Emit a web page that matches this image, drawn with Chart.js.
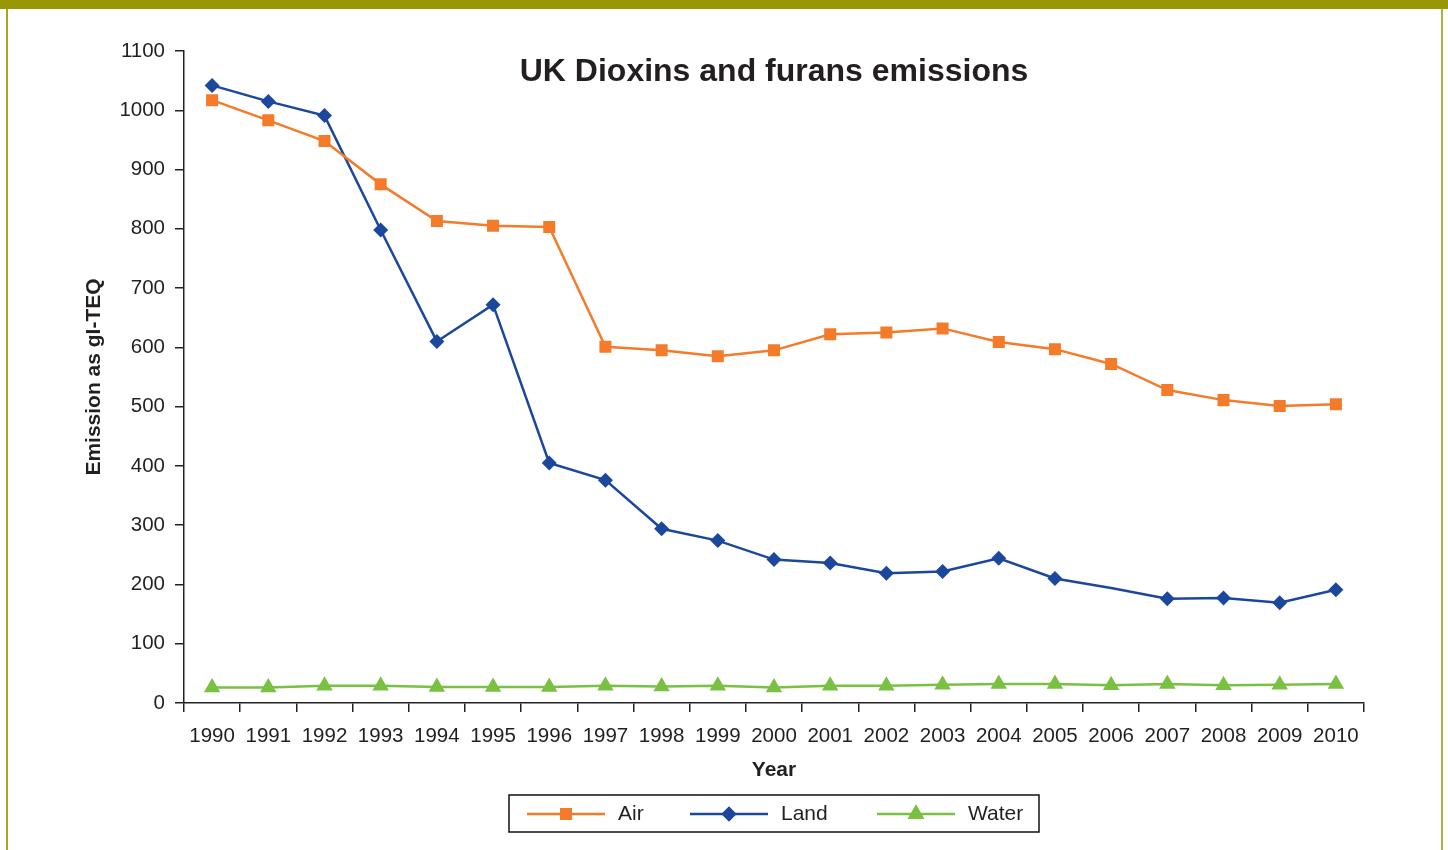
<!DOCTYPE html>
<html>
<head>
<meta charset="utf-8">
<script src="https://cdn.jsdelivr.net/npm/chart.js@4.4.1/dist/chart.umd.min.js"></script>
<style>
  html, body { margin: 0; padding: 0; background: #fff; }
  #wrap { position: relative; width: 1448px; height: 850px; overflow: hidden; }
  #topbar { position: absolute; left: 0; top: 0; width: 1448px; height: 9px; background: #979708; }
  #lborder { position: absolute; left: 6px; top: 9px; width: 2px; height: 841px; background: #a6a620; }
  #rborder { position: absolute; left: 1441px; top: 9px; width: 2px; height: 841px; background: #b0b040; }
  canvas { position: absolute; left: 0; top: 0; }
</style>
</head>
<body>
<div id="wrap">
  <canvas id="chart" width="1448" height="850"></canvas>
  <div id="topbar"></div>
  <div id="lborder"></div>
  <div id="rborder"></div>
</div>
<script>
const years = ["1990", "1991", "1992", "1993", "1994", "1995", "1996", "1997", "1998", "1999", "2000",
  "2001", "2002", "2003", "2004", "2005", "2006", "2007", "2008", "2009", "2010"]
const air = [1017, 983, 948, 875, 813, 805, 803, 601, 595, 585, 595, 622, 625, 632, 609, 597, 572, 528, 511, 501, 504]
const land = [1042, 1015, 991, 798, 610, 672, 405, 376, 294, 274, 242, 236, 219, 222, 244, 210, 194, 176, 177, 169, 191]
const water = [26, 26, 29, 29, 27, 27, 27, 29, 28, 29, 26, 29, 29, 31, 32, 32, 30, 32, 30, 31, 32]
// the source has no marker on Land for 2006
const landNoMarker = "2006"

const FONT = "'Liberation Sans', Arial, sans-serif"
const INK = "#231f20"
const ORANGE = "#f47b2a"
const BLUE = "#1b479c"
const GREEN = "#7ac143"

const series = [
  { label: "Air", data: air, color: ORANGE, style: "rect", radius: 8.5 },
  { label: "Land", data: land, color: BLUE, style: "rectRot", radius: 7.5 },
  { label: "Water", data: water, color: GREEN, style: "triangle", radius: 9.5 }
]

const titlePlugin = {
  id: "chartTitle",
  afterDraw(chart) {
    const ctx = chart.ctx
    ctx.save()
    ctx.font = "bold 32px " + FONT
    ctx.fillStyle = INK
    ctx.textAlign = "center"
    ctx.textBaseline = "middle"
    ctx.fillText("UK Dioxins and furans emissions", 774, 72)
    ctx.restore()
  }
}

const legendPlugin = {
  id: "boxLegend",
  afterDraw(chart) {
    const ctx = chart.ctx
    const box = { x: 509, y: 795, w: 530, h: 37 }
    const cy = box.y + box.h / 2 + 0.5
    const starts = [527, 690, 877]
    ctx.save()
    ctx.strokeStyle = "#111"
    ctx.lineWidth = 1.5
    ctx.strokeRect(box.x, box.y, box.w, box.h)
    series.forEach((s, i) => {
      const x0 = starts[i]
      ctx.strokeStyle = s.color
      ctx.lineWidth = 2.5
      ctx.beginPath()
      ctx.moveTo(x0, cy)
      ctx.lineTo(x0 + 78, cy)
      ctx.stroke()
      ctx.fillStyle = s.color
      Chart.helpers.drawPoint(ctx, { pointStyle: s.style, radius: s.radius, rotation: 0, borderWidth: 0 }, x0 + 39, cy)
      ctx.fill()
      ctx.fillStyle = INK
      ctx.font = "21px " + FONT
      ctx.textAlign = "left"
      ctx.textBaseline = "middle"
      ctx.fillText(s.label, x0 + 91, cy)
    })
    ctx.restore()
  }
}

new Chart(document.getElementById("chart"), {
  type: "line",
  data: {
    labels: years,
    datasets: series.map(s => ({
      label: s.label,
      data: s.data,
      borderColor: s.color,
      backgroundColor: s.color,
      borderWidth: 2.5,
      pointStyle: s.style,
      pointRadius: s.label === "Land" ? years.map(y => (y === landNoMarker ? 0 : s.radius)) : s.radius,
      pointBorderWidth: 0,
      tension: 0,
      fill: false
    }))
  },
  options: {
    responsive: false,
    animation: false,
    layout: { padding: { left: 0, top: 51, right: 84, bottom: 0 } },
    plugins: { legend: { display: false }, tooltip: { enabled: false } },
    scales: {
      x: {
        offset: true,
        grid: { offset: true, drawOnChartArea: false, drawTicks: true, tickLength: 9, color: "#222", lineWidth: 1.5 },
        border: { display: true, color: "#222", width: 1.5 },
        ticks: { color: INK, font: { family: FONT, size: 20.5 }, padding: 12, maxRotation: 0, autoSkip: false },
        title: { display: true, text: "Year", color: INK, font: { family: FONT, size: 21, weight: "bold" }, padding: { top: 0, bottom: 67 } },
        afterFit(scale) { scale.height = 147 }
      },
      y: {
        min: 0,
        max: 1100,
        grid: { drawOnChartArea: false, drawTicks: true, tickLength: 9, color: "#222", lineWidth: 1.5 },
        border: { display: true, color: "#222", width: 1.5 },
        ticks: { stepSize: 100, color: INK, font: { family: FONT, size: 20.5 }, padding: 10, callback: v => String(v) },
        title: { display: true, text: "Emission as gI-TEQ", color: INK, font: { family: FONT, size: 21, weight: "bold" }, padding: { top: 82, bottom: 0 } },
        afterFit(scale) { scale.width = 184 }
      }
    }
  },
  plugins: [titlePlugin, legendPlugin]
})
</script>
</body>
</html>
